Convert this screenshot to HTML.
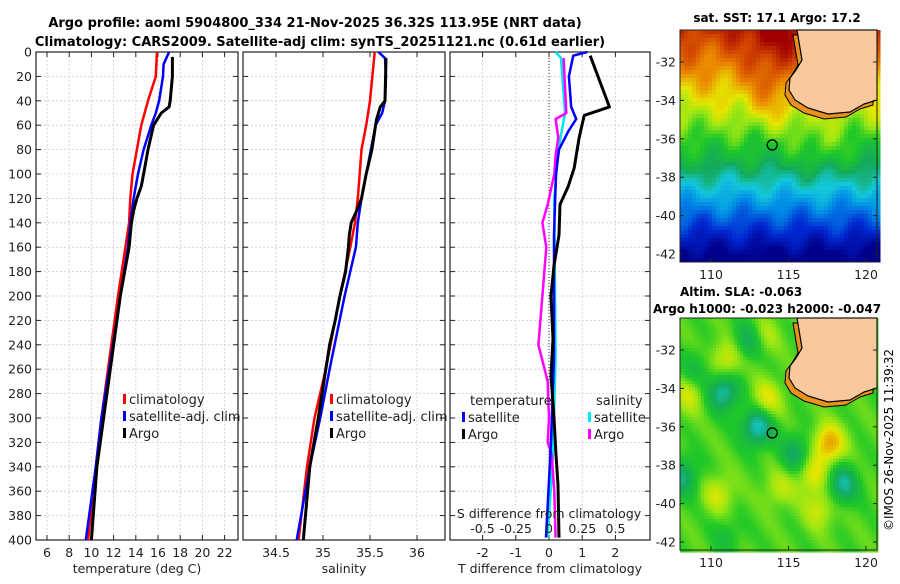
<!DOCTYPE html>
<html><head><meta charset="utf-8"><style>
body{margin:0;background:#fff;width:900px;height:580px;overflow:hidden;font-family:"DejaVu Sans","Liberation Sans",sans-serif}
svg text{font-family:"DejaVu Sans","Liberation Sans",sans-serif}
</style></head><body>
<svg id="s" width="900" height="580" viewBox="0 0 900 580" xmlns="http://www.w3.org/2000/svg">
<text x="315" y="27" text-anchor="middle" font-size="13" font-weight="bold">Argo profile: aoml 5904800_334 21-Nov-2025 36.32S 113.95E (NRT data)</text>
<text x="320" y="46" text-anchor="middle" font-size="13" font-weight="bold">Climatology: CARS2009. Satellite-adj clim: synTS_20251121.nc (0.61d earlier)</text>
<g id="p1"></g>
<g id="p2"></g>
<g id="p3"></g>
<g id="m1"></g>
<g id="m2"></g>
<text x="777" y="22" text-anchor="middle" font-size="12" font-weight="bold">sat. SST: 17.1 Argo: 17.2</text>
<text x="680" y="296" font-size="12" font-weight="bold">Altim. SLA: -0.063</text>
<text x="653" y="313" font-size="12" font-weight="bold">Argo h1000: -0.023 h2000: -0.047</text>
<text transform="translate(893,440) rotate(-90)" text-anchor="middle" font-size="12">©IMOS 26-Nov-2025 11:39:32</text>
</svg>
<script>
const depthTicks=[0,20,40,60,80,100,120,140,160,180,200,220,240,260,280,300,320,340,360,380,400];
const tTicks=[6,8,10,12,14,16,18,20,22];
const sTicks=[34.5,35,35.5,36];
const dTTicks=[-2,-1,0,1,2];
const dSTicks=[-0.5,-0.25,0,0.25,0.5];
const dSTickLabels=["-0.5","-0.25","0","0.25","0.5"];
// temperature profiles
const climTDepth=[0,20,40,60,80,100,120,140,200,260,300,340,400];
const climT=[15.9,15.8,15.1,14.5,14.1,13.7,13.5,13.4,12.4,11.5,10.9,10.4,9.7];
const satTDepth=[0,10,20,40,50,60,80,100,120,140,160,200,260,300,340,400];
const satT=[17.0,16.5,16.45,16.1,15.8,15.4,14.7,14.2,13.8,13.5,13.3,12.6,11.6,10.9,10.4,9.5];
const argoTDepth=[4,20,40,45,50,60,80,100,110,120,130,140,160,200,260,300,340,400];
const argoT=[17.3,17.3,17.1,17.0,16.3,15.6,15.1,14.7,14.5,14.1,13.8,13.6,13.4,12.6,11.7,11.1,10.5,10.0];
// salinity profiles
const climSDepth=[0,40,60,80,100,120,140,160,200,260,300,340,400];
const climS=[35.55,35.50,35.46,35.41,35.39,35.37,35.34,35.29,35.18,35.03,34.91,34.83,34.74];
const satSDepth=[0,5,20,40,50,60,80,100,120,140,160,200,260,300,340,400];
const satS=[35.59,35.66,35.67,35.66,35.63,35.56,35.51,35.46,35.41,35.37,35.35,35.23,35.07,34.97,34.86,34.72];
const argoSDepth=[5,40,45,55,60,80,100,120,130,140,150,160,180,200,220,240,260,300,340,400];
const argoS=[35.67,35.66,35.61,35.57,35.56,35.52,35.46,35.41,35.36,35.30,35.28,35.27,35.24,35.18,35.13,35.07,35.03,34.95,34.86,34.79];
// differences
const argoDTDepth=[3,45,52,70,95,110,125,150,175,200,235,265,300,330,355,398];
const argoDT=[1.24,1.82,1.06,0.91,0.76,0.58,0.33,0.3,0.15,0.06,0.12,0.06,0.15,0.21,0.27,0.3];
const satDTDepth=[0,3,20,45,55,65,80,100,150,250,320,398];
const satDT=[1.15,0.73,0.6,0.67,0.82,0.58,0.3,0.21,0.15,0.15,0.06,-0.09];
const satDSDepth=[0,5,50,80,120,250,330,398];
const satDS=[0.05,0.09,0.12,0.07,0.04,0.05,0.03,-0.01];
const argoDSDepth=[5,50,55,70,85,100,125,140,160,200,240,270,300,320,330,360,398];
const argoDS=[0.11,0.13,0.05,0.07,0.05,0.04,-0.01,-0.05,-0.02,-0.05,-0.08,-0.01,0,-0.01,0.02,0.04,0.05];

const NS="http://www.w3.org/2000/svg";
function mk(p,t,a){const e=document.createElementNS(NS,t);for(const k in a)e.setAttribute(k,a[k]);p.appendChild(e);return e;}
const Y0=52,Y1=540;
const yD=d=>Y0+d*(Y1-Y0)/400;

function frame(g,x0,x1,xTicks,xf,labels,ytickLabels,xlabel){
  depthTicks.forEach(d=>{const l=mk(g,'line',{x1:x0,x2:x1,y1:yD(d),y2:yD(d),stroke:'#c8cce8','stroke-dasharray':'2,2','stroke-width':0.8});
    });
  xTicks.forEach(v=>{const l=mk(g,'line',{x1:xf(v),x2:xf(v),y1:Y0,y2:Y1,stroke:'#c8cce8','stroke-dasharray':'2,2','stroke-width':0.8});
    });
  const r=mk(g,'rect',{x:x0,y:Y0,width:x1-x0,height:Y1-Y0,fill:'none',stroke:'#222','stroke-width':1.2});
  
  depthTicks.forEach(d=>{mk(g,'line',{x1:x0,x2:x0+5,y1:yD(d),y2:yD(d),stroke:'#222'});mk(g,'line',{x1:x1-5,x2:x1,y1:yD(d),y2:yD(d),stroke:'#222'});
    if(ytickLabels){const t=mk(g,'text',{x:x0-4,y:yD(d)+4.5,'text-anchor':'end','font-size':12.5,fill:'#222'});t.textContent=d;
      }});
  xTicks.forEach((v,i)=>{mk(g,'line',{x1:xf(v),x2:xf(v),y1:Y1,y2:Y1-5,stroke:'#222'});mk(g,'line',{x1:xf(v),x2:xf(v),y1:Y0,y2:Y0+5,stroke:'#222'});
    const t=mk(g,'text',{x:xf(v),y:Y1+17,'text-anchor':'middle','font-size':12.5,fill:'#222'});t.textContent=labels[i];
    });
  const xl=mk(g,'text',{x:(x0+x1)/2,y:Y1+33,'text-anchor':'middle','font-size':12.5,fill:'#222'});xl.textContent=xlabel;
  
}
function line(g,ds,vs,xf,col,w,name){
  const pts=ds.map((d,i)=>xf(vs[i]).toFixed(1)+','+yD(d).toFixed(1)).join(' ');
  const p=mk(g,'polyline',{points:pts,fill:'none',stroke:col,'stroke-width':w,'stroke-linejoin':'round'});
  
}
function legend(g,x,y,col,txt){
  const r=mk(g,'rect',{x:x,y:y-9,width:3,height:10,fill:col});
  
  const t=mk(g,'text',{x:x+6,y:y+1,'font-size':13,fill:'#222'});t.textContent=txt;
  
}
// panel 1
const g1=document.getElementById('p1');const xT=v=>47+(v-6)*11.1;
frame(g1,36,238,tTicks,xT,tTicks.map(String),true,'temperature (deg C)');
line(g1,climTDepth,climT,xT,'#f00',2.5,'climatology-temperature-line');
line(g1,satTDepth,satT,xT,'#00f',2.5,'satellite-temperature-line');
line(g1,argoTDepth,argoT,xT,'#000',3,'argo-temperature-line');
legend(g1,123,403,'#f00','climatology');legend(g1,123,420,'#00f','satellite-adj. clim');legend(g1,123,437,'#000','Argo');
// panel 2
const g2=document.getElementById('p2');const xS=v=>323+(v-35)*94;
frame(g2,243,445,sTicks,xS,sTicks.map(String),false,'salinity');
line(g2,climSDepth,climS,xS,'#f00',2.5,'climatology-salinity-line');
line(g2,satSDepth,satS,xS,'#00f',2.5,'satellite-salinity-line');
line(g2,argoSDepth,argoS,xS,'#000',3,'argo-salinity-line');
legend(g2,330,403,'#f00','climatology');legend(g2,330,420,'#00f','satellite-adj. clim');legend(g2,330,437,'#000','Argo');
// panel 3
const g3=document.getElementById('p3');const xDT=v=>549+v*33.2;const xDS=v=>549+v*133;
frame(g3,450,650,dTTicks,xDT,dTTicks.map(String),false,'T difference from climatology');
const z=mk(g3,'line',{x1:549,x2:549,y1:Y0,y2:Y1,stroke:'#333','stroke-dasharray':'1,2'});

line(g3,satDSDepth,satDS,xDS,'#00e5ee',2.5,'satellite-salinity-diff-line');
line(g3,argoDSDepth,argoDS,xDS,'#f0f',2.5,'argo-salinity-diff-line');
line(g3,satDTDepth,satDT,xDT,'#00f',2.5,'satellite-temperature-diff-line');
line(g3,argoDTDepth,argoDT,xDT,'#000',3,'argo-temperature-diff-line');
{const t=mk(g3,'text',{x:470,y:405,'font-size':13,fill:'#222'});t.textContent='temperature';
 const u=mk(g3,'text',{x:596,y:405,'font-size':13,fill:'#222'});u.textContent='salinity';}
legend(g3,462,421,'#00f','satellite');legend(g3,462,438,'#000','Argo');
legend(g3,588,421,'#00e5ee','satellite');legend(g3,588,438,'#f0f','Argo');
{const t=mk(g3,'text',{x:549,y:518,'text-anchor':'middle','font-size':12.5,fill:'#222'});t.textContent='S difference from climatology';}
dSTicks.forEach((v,i)=>{const t=mk(g3,'text',{x:xDS(v),y:533,'text-anchor':'middle','font-size':12.5,fill:'#222'});t.textContent=dSTickLabels[i];
 });

// maps
function jet(v){const c=[[0,[0,0,140]],[0.12,[0,40,210]],[0.25,[0,140,230]],[0.35,[20,200,220]],[0.45,[20,170,90]],[0.55,[30,200,40]],[0.63,[150,230,20]],[0.7,[230,230,0]],[0.8,[235,140,0]],[0.9,[210,70,0]],[1,[160,0,0]]];
 v=Math.max(0,Math.min(1,v));for(let i=1;i<c.length;i++){if(v<=c[i][0]){const a=c[i-1],b=c[i],f=(v-a[0])/(b[0]-a[0]);return 'rgb('+a[1].map((q,k)=>Math.round(q+(b[1][k]-q)*f)).join(',')+')';}}return 'rgb(160,0,0)';}
function map(gid,top,field,cell){
 const g=document.getElementById(gid);const L=680,R=877,B=top+232;
 const lon=x=>108+(x-L)/(866-L)*12; const lat=y=>-32-(y-(top+32))/((B-8)-(top+32))*10;
 for(let y=top;y<B;y+=cell)for(let x=L;x<R;x+=cell){mk(g,'rect',{x:x,y:y,width:cell+0.5,height:cell+0.5,fill:jet(field(lon(x+cell/2),lat(y+cell/2)))});}
 const land=`M797,${top} L800,${top+18} L802,${top+30} L796,${top+40} L790,${top+48} L789,${top+60} L795,${top+70} L808,${top+78} L828,${top+84} L850,${top+82} L864,${top+74} L${R},${top+70} L${R},${top} Z`;
 mk(g,'path',{d:land,fill:'#e89020',stroke:'#000','stroke-width':1,transform:'translate(-4,5)'});
 const p=mk(g,'path',{d:land,fill:'#f9c99d',stroke:'#000','stroke-width':1.2});
 const ci=mk(g,'circle',{cx:L+(113.95-108)/12*(866-L),cy:top+32+(36.32-32)/10*(B-8-top-32),r:5,fill:'none',stroke:'#000','stroke-width':1.3});
 
 mk(g,'rect',{x:L,y:top,width:R-L,height:B-top,fill:'none',stroke:'#222'});
 [110,115,120].forEach(v=>{const x=L+(v-108)/12*(866-L);mk(g,'line',{x1:x,x2:x,y1:B,y2:B-4,stroke:'#222'});
  const t=mk(g,'text',{x:x,y:B+17,'text-anchor':'middle','font-size':12.5,fill:'#222'});t.textContent=v;});
 [-32,-34,-36,-38,-40,-42].forEach(v=>{const y=top+32+(-32-v)/10*(B-8-top-32);mk(g,'line',{x1:L,x2:L+4,y1:y,y2:y,stroke:'#222'});mk(g,'line',{x1:R-4,x2:R,y1:y,y2:y,stroke:'#222'});
  const t=mk(g,'text',{x:L-4,y:y+4.5,'text-anchor':'end','font-size':12.5,fill:'#222'});t.textContent=v;});
}
map('m1',30,(lo,la)=>{let v=la>-37?0.5+(la+37)*0.065:0.5+(la+37)*0.1;
 v+=0.1*Math.exp(-((lo-114)**2)/3)/(1+Math.exp(-(la+35)*2));
 v+=0.05*Math.exp(-((lo-117)**2+(la+36.5)**2)/2);
 v+=0.03*Math.sin(lo*1.9+la*1.3)+0.02*Math.sin(lo*3.1-la*2.3);return v;},4);
const blobs=[[111,-32.5,0.12],[113.3,-31.3,0.1],[112.5,-31.5,-0.15],[109,-33,-0.08],[110.8,-34.2,-0.2],[113,-36,-0.22],[117.6,-36.9,0.2],[116.5,-38.5,0.12],[118.5,-39,-0.18],[108.2,-38.6,-0.15],[113.6,-34.6,0.12],[108.6,-34.3,0.1],[115.5,-37.4,-0.14],[110.5,-39.5,0.1],[117,-40.3,0.1],[114.4,-39.2,0.08],[111,-41.7,-0.06]];
map('m2',318,(lo,la)=>{let v=0.58;blobs.forEach(b=>{v+=b[2]*Math.exp(-((lo-b[0])**2+(la-b[1])**2)/1.0);});v+=0.02*Math.sin(lo*2.3+la*1.9);return v;},3);
</script>
</body></html>
